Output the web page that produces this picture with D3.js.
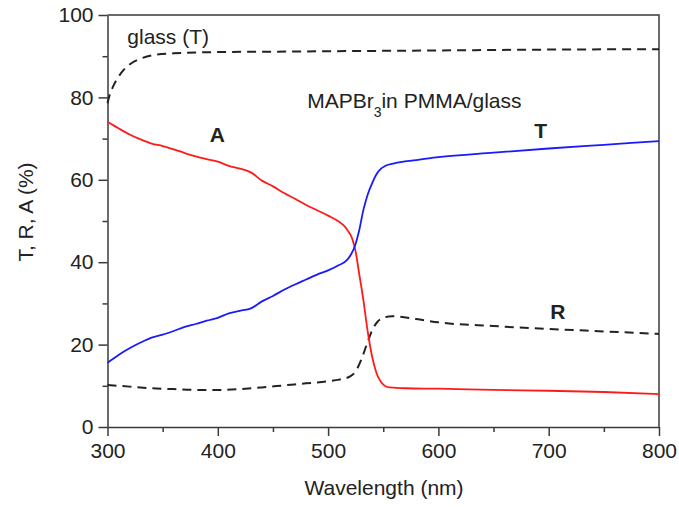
<!DOCTYPE html>
<html>
<head>
<meta charset="utf-8">
<script src="https://cdn.jsdelivr.net/npm/d3@7"></script>
<style>
  html, body { margin: 0; padding: 0; background: #fff; }
  svg { display: block; }
  text { font-family: Arial, "Liberation Sans", Helvetica, sans-serif; fill: #222; }
</style>
</head>
<body>
<svg id="chart" width="679" height="507"></svg>
<script>
// Optical spectra of MAPbBr3 in PMMA on glass: transmittance, reflectance, absorptance
const absorptance = [
  [300, 74.1], [310, 72.5], [320, 71.0], [330, 69.8], [340, 68.8], [350, 68.2],
  [360, 67.4], [370, 66.5], [380, 65.7], [390, 65.0], [400, 64.4], [410, 63.4],
  [420, 62.7], [430, 61.8], [440, 59.8], [450, 58.4], [460, 56.8], [470, 55.4],
  [480, 53.9], [490, 52.6], [500, 51.3], [510, 49.8], [515, 48.7], [518, 47.6],
  [522, 45.6], [525, 42.5], [528, 37.5], [532, 30.8], [536, 23.0], [540, 17.0],
  [544, 13.0], [548, 10.9], [552, 9.9], [556, 9.6], [570, 9.4], [600, 9.3],
  [650, 9.0], [700, 8.8], [750, 8.5], [800, 8.0]
];
const transmittance = [
  [300, 15.6], [310, 17.5], [320, 19.1], [330, 20.5], [340, 21.7], [350, 22.4],
  [360, 23.3], [370, 24.3], [380, 25.0], [390, 25.8], [400, 26.5], [410, 27.6],
  [420, 28.2], [430, 28.8], [440, 30.5], [450, 31.8], [460, 33.3], [470, 34.6],
  [480, 35.8], [490, 37.0], [500, 38.0], [510, 39.3], [517, 40.5], [521, 42.0],
  [525, 44.5], [528, 47.5], [532, 52.7], [536, 56.5], [540, 59.2], [544, 61.4],
  [548, 62.7], [552, 63.4], [560, 64.0], [580, 64.8], [600, 65.5], [650, 66.6],
  [700, 67.6], [750, 68.5], [800, 69.4]
];
const reflectance = [
  [300, 10.2], [320, 9.8], [340, 9.4], [360, 9.2], [380, 9.0], [400, 9.0],
  [420, 9.2], [440, 9.6], [460, 10.1], [480, 10.6], [500, 11.1], [510, 11.5],
  [520, 12.3], [525, 13.5], [530, 16.3], [535, 20.0], [540, 23.5], [545, 25.6],
  [550, 26.5], [558, 26.9], [580, 26.2], [600, 25.4], [650, 24.5], [700, 23.8],
  [750, 23.2], [800, 22.6]
];
const glassT = [
  [300, 78.6], [302, 80.6], [305, 82.6], [310, 85.0], [315, 86.8], [320, 88.0],
  [330, 89.4], [340, 90.2], [360, 90.7], [400, 91.0], [450, 91.1], [500, 91.2],
  [600, 91.4], [700, 91.6], [800, 91.7]
];
const xTicks = [300, 400, 500, 600, 700, 800];
const yTicks = [0, 20, 40, 60, 80, 100];

const svg = d3.select("#chart");
const plotLeft = 107.5, plotRight = 659, plotTop = 15, plotBottom = 427;

const x = d3.scaleLinear().domain([300, 800]).range([plotLeft, plotRight]);
const y = d3.scaleLinear().domain([0, 100]).range([plotBottom, plotTop]);

const axisColor = "#3a3a3a";
const fontSize = 21;

// minor ticks
svg.append("g").attr("transform", `translate(0,${plotBottom})`)
  .call(d3.axisBottom(x).tickValues(d3.range(350, 800, 100)).tickSize(5).tickFormat(""))
  .call(g => g.select(".domain").remove());
svg.append("g").attr("transform", `translate(${plotLeft},0)`)
  .call(d3.axisLeft(y).tickValues(d3.range(10, 100, 20)).tickSize(5).tickFormat(""))
  .call(g => g.select(".domain").remove());

// major axes
svg.append("g").attr("transform", `translate(0,${plotBottom})`)
  .call(d3.axisBottom(x).tickValues(xTicks).tickSize(9).tickPadding(7).tickSizeOuter(0));
svg.append("g").attr("transform", `translate(${plotLeft},0)`)
  .call(d3.axisLeft(y).tickValues(yTicks).tickSize(9).tickPadding(5).tickSizeOuter(0));

svg.selectAll(".tick line, .domain").attr("stroke", axisColor).attr("stroke-width", 1.5);
svg.selectAll(".tick text").attr("font-size", fontSize)
  .attr("font-family", "Arial, 'Liberation Sans', sans-serif").attr("fill", "#222");

// frame: top and right border
svg.append("path")
  .attr("d", `M${plotLeft},${plotTop}H${plotRight}V${plotBottom}`)
  .attr("fill", "none").attr("stroke", axisColor).attr("stroke-width", 1.5);

// curves
const line = d3.line().x(d => x(d[0])).y(d => y(d[1])).curve(d3.curveMonotoneX);
const plot = svg.append("g");

plot.append("path").datum(glassT).attr("d", line)
  .attr("fill", "none").attr("stroke", "#222").attr("stroke-width", 2)
  .attr("stroke-dasharray", "9,6");
plot.append("path").datum(reflectance).attr("d", line)
  .attr("fill", "none").attr("stroke", "#222").attr("stroke-width", 2)
  .attr("stroke-dasharray", "9,6");
plot.append("path").datum(absorptance).attr("d", line)
  .attr("fill", "none").attr("stroke", "#ff1a1a").attr("stroke-width", 1.8);
plot.append("path").datum(transmittance).attr("d", line)
  .attr("fill", "none").attr("stroke", "#1a1aff").attr("stroke-width", 1.8);

// annotations (placed in data coordinates)
svg.append("text").attr("x", x(318)).attr("y", y(93.0))
  .attr("font-size", fontSize).text("glass (T)");

const mapi = svg.append("text").attr("x", x(481)).attr("y", y(77.4)).attr("font-size", fontSize);
mapi.append("tspan").text("MAPBr");
mapi.append("tspan").attr("font-size", 14).attr("dy", 9).text("3");
mapi.append("tspan").attr("dy", -9).text("in PMMA/glass");

[["A", 399.5, 69.2], ["T", 692.8, 70.1], ["R", 708.2, 26.2]].forEach(([t, wl, v]) => {
  svg.append("text").attr("x", x(wl)).attr("y", y(v))
    .attr("text-anchor", "middle").attr("font-weight", "bold")
    .attr("font-size", fontSize).text(t);
});

// axis titles
svg.append("text").attr("x", 384).attr("y", 495)
  .attr("text-anchor", "middle").attr("font-size", fontSize).text("Wavelength (nm)");
svg.append("text")
  .attr("transform", "translate(33,212) rotate(-90)")
  .attr("text-anchor", "middle").attr("font-size", fontSize).text("T, R, A (%)");
</script>
</body>
</html>
